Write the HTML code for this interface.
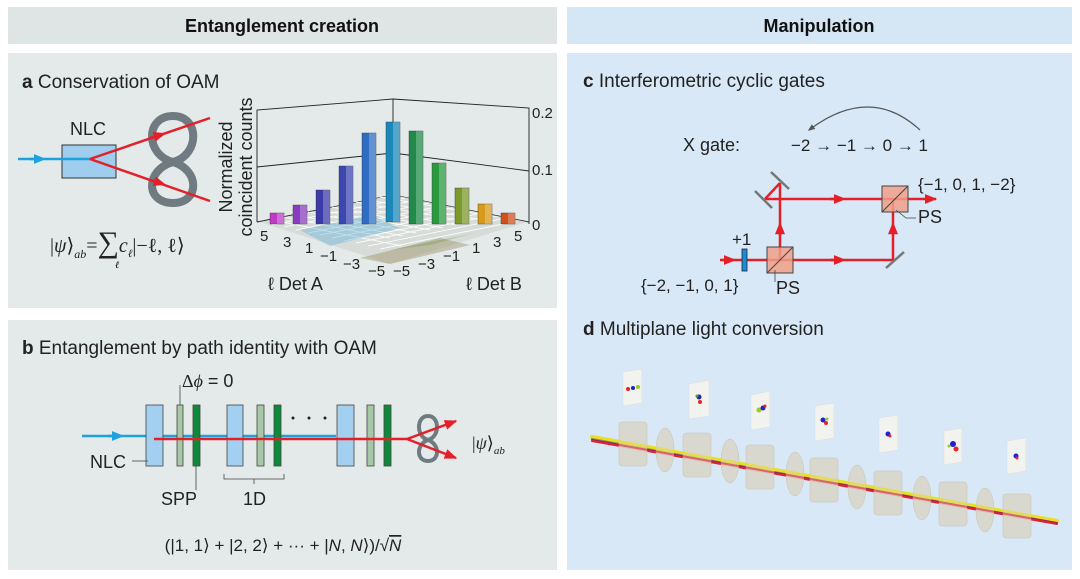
<!DOCTYPE html>
<html><head><meta charset="utf-8"><style>
body{margin:0;background:#fff;}
svg{display:block;font-family:"Liberation Sans","DejaVu Sans",sans-serif;}
</style></head><body>
<svg width="1080" height="579" viewBox="0 0 1080 579" xmlns="http://www.w3.org/2000/svg">
<defs>
<marker id="ar" viewBox="0 0 10 10" refX="5" refY="5" markerWidth="5" markerHeight="5" orient="auto"><path d="M0,1 L10,5 L0,9 z" fill="#e3202a"/></marker>
<marker id="ab" viewBox="0 0 10 10" refX="5" refY="5" markerWidth="5" markerHeight="5" orient="auto"><path d="M0,1 L10,5 L0,9 z" fill="#1aa3de"/></marker>
<marker id="ag" viewBox="0 0 10 10" refX="8" refY="5" markerWidth="6" markerHeight="6" orient="auto"><path d="M0,1 L10,5 L0,9 z" fill="#555"/></marker>
<marker id="ae" viewBox="0 0 10 10" refX="9" refY="5" markerWidth="5" markerHeight="5" orient="auto"><path d="M0,1 L10,5 L0,9 z" fill="#e3202a"/></marker>
</defs>
<rect x="0" y="0" width="1080" height="579" fill="#fff"/>
<rect x="8" y="7" width="549" height="37" fill="#dfe4e4"/>
<rect x="567" y="7" width="505" height="37" fill="#d5e6f5"/>
<text x="282" y="32" font-size="18" font-weight="bold" text-anchor="middle" fill="#111">Entanglement creation</text>
<text x="819" y="32" font-size="18" font-weight="bold" text-anchor="middle" fill="#111">Manipulation</text>
<rect x="8" y="53" width="549" height="255" fill="#e4e9e9"/>
<rect x="8" y="320" width="549" height="250" fill="#e4e9e9"/>
<rect x="567" y="53" width="505" height="517" fill="#d8e8f6"/>

<!-- panel a -->
<text x="22" y="88" font-size="19" fill="#222"><tspan font-weight="bold">a</tspan> Conservation of OAM</text>
<text x="88" y="135" font-size="18" text-anchor="middle" fill="#222">NLC</text>
<rect x="62" y="145" width="54" height="33" fill="#9fcdee" stroke="#333" stroke-width="1"/>
<line x1="18" y1="159" x2="90" y2="159" stroke="#1aa3de" stroke-width="2.5"/>
<path d="M30 159 L40 159" stroke="#1aa3de" stroke-width="2.5" marker-end="url(#ab)"/>
<path d="M173 116 C145 116 145 155 173 162 C200 170 200 203 173 203 C145 203 145 170 173 162 C200 155 200 116 173 116 Z" fill="none" stroke="#6f7b80" stroke-width="8"/>
<line x1="90" y1="159" x2="210" y2="118" stroke="#e3202a" stroke-width="2.5"/>
<line x1="90" y1="159" x2="210" y2="201" stroke="#e3202a" stroke-width="2.5"/>
<path d="M150 138 L160 135" stroke="#e3202a" stroke-width="2.5" marker-end="url(#ar)"/>
<path d="M150 180 L160 183" stroke="#e3202a" stroke-width="2.5" marker-end="url(#ar)"/>
<text x="50" y="252" font-size="20" font-family="Liberation Serif,serif" fill="#222">|<tspan font-style="italic">ψ</tspan>⟩<tspan font-size="12" font-style="italic" dy="6">ab</tspan><tspan dy="-6">=</tspan><tspan font-size="30">∑</tspan><tspan font-style="italic">c</tspan><tspan font-size="11" dy="5" font-style="italic">ℓ</tspan><tspan dy="-5">|−ℓ, ℓ⟩</tspan></text>
<text x="115" y="268" font-size="10" font-style="italic" font-family="Liberation Serif,serif">ℓ</text>

<!-- 3d plot -->
<g stroke="#222" stroke-width="0.9" fill="none">
<polyline points="257,222 257,110 393,99 529,108 529,224"/>
<line x1="393" y1="99" x2="393" y2="195"/>
<polyline points="257,167 393,153 529,171"/>
<polyline points="257,222 393,195 529,222"/>
</g>
<polygon points="260,222 393,195 527,222 390,264" fill="#d8dcd8"/>
<g stroke="#fff" stroke-width="0.8">
<line x1="272" y1="225" x2="405" y2="198"/><line x1="284" y1="227" x2="417" y2="200"/><line x1="296" y1="230" x2="429" y2="203"/><line x1="308" y1="233" x2="441" y2="206"/><line x1="320" y1="235" x2="453" y2="208"/><line x1="332" y1="238" x2="465" y2="211"/><line x1="344" y1="241" x2="477" y2="214"/><line x1="356" y1="243" x2="489" y2="216"/><line x1="368" y1="246" x2="501" y2="219"/><line x1="380" y1="249" x2="513" y2="222"/>
<line x1="272" y1="220" x2="402" y2="246"/><line x1="284" y1="217" x2="390" y2="238"/><line x1="296" y1="215" x2="403" y2="236"/><line x1="308" y1="212" x2="416" y2="233"/><line x1="320" y1="210" x2="430" y2="230"/><line x1="332" y1="207" x2="443" y2="228"/><line x1="344" y1="205" x2="456" y2="225"/><line x1="356" y1="202" x2="470" y2="222"/><line x1="368" y1="200" x2="483" y2="220"/><line x1="380" y1="197" x2="497" y2="217"/>
</g>
<polygon points="300,230 370,215 400,228 330,246" fill="#4aa8d8" opacity="0.35"/>
<polygon points="390,250 470,234 500,226 430,245" fill="#6ab04a" opacity="0.35"/>
<polygon points="360,258 390,264 470,245 440,238" fill="#7a6a30" opacity="0.3"/>
<g stroke="#333" stroke-width="0.4">
<rect x="270" y="213" width="14" height="11" fill="#c03ac8"/>
<rect x="293" y="205" width="14" height="19" fill="#8a3cc0"/>
<rect x="316" y="190" width="14" height="34" fill="#3b3aa8"/>
<rect x="339" y="166" width="14" height="58" fill="#3c48b0"/>
<rect x="362" y="133" width="14" height="91" fill="#2f6cc4"/>
<rect x="386" y="122" width="14" height="100" fill="#1a88b8"/>
<rect x="409" y="131" width="14" height="93" fill="#1f8a4a"/>
<rect x="432" y="163" width="14" height="61" fill="#2b9a3e"/>
<rect x="455" y="188" width="14" height="36" fill="#7a9a2a"/>
<rect x="478" y="204" width="14" height="20" fill="#d89a1a"/>
<rect x="501" y="213" width="14" height="11" fill="#d0501e"/>
</g>
<g fill="#fff" opacity="0.25">
<rect x="277" y="213" width="7" height="11"/><rect x="300" y="205" width="7" height="19"/><rect x="323" y="190" width="7" height="34"/><rect x="346" y="166" width="7" height="58"/><rect x="369" y="133" width="7" height="91"/><rect x="393" y="122" width="7" height="100"/><rect x="416" y="131" width="7" height="93"/><rect x="439" y="163" width="7" height="61"/><rect x="462" y="188" width="7" height="36"/><rect x="485" y="204" width="7" height="20"/><rect x="508" y="213" width="7" height="11"/>
</g>
<g font-size="15" fill="#222">
<text x="532" y="118">0.2</text><text x="532" y="175">0.1</text><text x="532" y="230">0</text>
<text x="260" y="241">5</text><text x="283" y="247">3</text><text x="305" y="253">1</text><text x="320" y="261">−1</text><text x="343" y="269">−3</text><text x="368" y="276">−5</text>
<text x="393" y="276">−5</text><text x="418" y="269">−3</text><text x="443" y="261">−1</text><text x="472" y="253">1</text><text x="493" y="247">3</text><text x="514" y="241">5</text>
<text x="268" y="290" font-size="18">ℓ Det A</text><text x="466" y="290" font-size="18">ℓ Det B</text>
</g>
<text transform="translate(232,167) rotate(-90)" font-size="18" text-anchor="middle" fill="#222">Normalized</text>
<text transform="translate(252,167) rotate(-90)" font-size="18" text-anchor="middle" fill="#222">coincident counts</text>

<!-- panel b -->
<text x="22" y="354" font-size="19" fill="#222"><tspan font-weight="bold">b</tspan> Entanglement by path identity with OAM</text>
<line x1="82" y1="436" x2="336" y2="436" stroke="#1aa3de" stroke-width="2.5"/>
<path d="M108 436 L118 436" stroke="#1aa3de" stroke-width="2.5" marker-end="url(#ab)"/>
<g stroke="#444" stroke-width="0.8">
<rect x="146" y="405" width="17" height="61" fill="#a3d0f0"/>
<rect x="177" y="405" width="6" height="61" fill="#a6c8a6"/>
<rect x="193" y="405" width="7" height="61" fill="#0c8a3a"/>
<rect x="227" y="405" width="16" height="61" fill="#a3d0f0"/>
<rect x="257" y="405" width="7" height="61" fill="#a6c8a6"/>
<rect x="274" y="405" width="7" height="61" fill="#0c8a3a"/>
<rect x="337" y="405" width="17" height="61" fill="#a3d0f0"/>
<rect x="367" y="405" width="7" height="61" fill="#a6c8a6"/>
<rect x="384" y="405" width="7" height="61" fill="#0c8a3a"/>
</g>
<line x1="154" y1="439" x2="407" y2="439" stroke="#e3202a" stroke-width="2.5"/>
<path d="M428 416 C416 416 416 437 428 440 C440 444 440 461 428 461 C416 461 416 444 428 440 C440 437 440 416 428 416 Z" fill="none" stroke="#6f7b80" stroke-width="4"/>
<line x1="407" y1="439" x2="456" y2="421" stroke="#e3202a" stroke-width="2.5" marker-end="url(#ae)"/>
<line x1="407" y1="439" x2="456" y2="458" stroke="#e3202a" stroke-width="2.5" marker-end="url(#ae)"/>
<circle cx="293" cy="418" r="1.5" fill="#222"/><circle cx="309" cy="418" r="1.5" fill="#222"/><circle cx="325" cy="418" r="1.5" fill="#222"/>
<g stroke="#444" stroke-width="0.8" fill="none">
<line x1="180" y1="385" x2="180" y2="405"/>
<line x1="132" y1="461" x2="148" y2="461"/>
<line x1="196" y1="466" x2="196" y2="490"/>
<polyline points="224,474 224,479 284,479 284,474"/><line x1="254" y1="479" x2="254" y2="484"/>
</g>
<text x="182" y="387" font-size="18" fill="#222"><tspan font-family="Liberation Serif,serif">Δ<tspan font-style="italic">ϕ</tspan></tspan> = 0</text>
<text x="90" y="468" font-size="18" fill="#222">NLC</text>
<text x="161" y="505" font-size="18" fill="#222">SPP</text>
<text x="243" y="505" font-size="18" fill="#222">1D</text>
<text x="472" y="449" font-size="18" font-family="Liberation Serif,serif" fill="#222">|<tspan font-style="italic">ψ</tspan>⟩<tspan font-size="11" font-style="italic" dy="5">ab</tspan></text>
<text x="283" y="551" font-size="17" text-anchor="middle" fill="#222">(|1, 1⟩ + |2, 2⟩ + ··· + |<tspan font-style="italic">N</tspan>, <tspan font-style="italic">N</tspan>⟩)/√<tspan font-style="italic" text-decoration="overline">N</tspan></text>

<!-- panel c -->
<text x="583" y="87" font-size="19" fill="#222"><tspan font-weight="bold">c</tspan> Interferometric cyclic gates</text>
<text x="683" y="151" font-size="18" fill="#222">X gate:</text>
<text x="791" y="151" font-size="17" fill="#222">−2 → −1 → 0 → 1</text>
<path d="M920 130 Q870 84 809 130" fill="none" stroke="#555" stroke-width="1.2" marker-end="url(#ag)"/>
<g stroke="#e3202a" stroke-width="2.5" fill="none">
<line x1="720" y1="260" x2="893" y2="260"/>
<line x1="780" y1="260" x2="780" y2="183"/>
<line x1="780" y1="183" x2="765" y2="199"/>
<line x1="765" y1="199" x2="932" y2="199"/>
<line x1="893" y1="260" x2="893" y2="199"/>
</g>
<path d="M722 260 L730 260" stroke="#e3202a" stroke-width="2.5" marker-end="url(#ar)"/>
<path d="M830 260 L840 260" stroke="#e3202a" stroke-width="2.5" marker-end="url(#ar)"/>
<path d="M830 199 L840 199" stroke="#e3202a" stroke-width="2.5" marker-end="url(#ar)"/>
<path d="M780 235 L780 228" stroke="#e3202a" stroke-width="2.5" marker-end="url(#ar)"/>
<path d="M893 235 L893 228" stroke="#e3202a" stroke-width="2.5" marker-end="url(#ar)"/>
<path d="M925 199 L936 199" stroke="#e3202a" stroke-width="2.5" marker-end="url(#ae)"/>
<rect x="742" y="249" width="5" height="22" fill="#1a8fd0" stroke="#224" stroke-width="0.8"/>
<rect x="767" y="247" width="26" height="26" fill="#f0a088" fill-opacity="0.85" stroke="#444" stroke-width="1"/>
<line x1="767" y1="273" x2="793" y2="247" stroke="#444" stroke-width="1"/>
<rect x="882" y="186" width="26" height="26" fill="#f0a088" fill-opacity="0.85" stroke="#444" stroke-width="1"/>
<line x1="882" y1="212" x2="908" y2="186" stroke="#444" stroke-width="1"/>
<g stroke="#777" stroke-width="2.5">
<line x1="771" y1="172" x2="789" y2="189"/>
<line x1="755" y1="191" x2="772" y2="208"/>
<line x1="886" y1="268" x2="904" y2="252"/>
</g>
<g stroke="#444" stroke-width="0.8" fill="none"><line x1="775" y1="270" x2="775" y2="282"/><polyline points="896,210 906,218 916,218"/></g>
<text x="732" y="245" font-size="17" fill="#222">+1</text>
<text x="641" y="291" font-size="17" fill="#222">{−2, −1, 0, 1}</text>
<text x="776" y="294" font-size="18" fill="#222">PS</text>
<text x="918" y="190" font-size="17" fill="#222">{−1, 0, 1, −2}</text>
<text x="918" y="223" font-size="18" fill="#222">PS</text>

<!-- panel d -->
<text x="583" y="335" font-size="19" fill="#222"><tspan font-weight="bold">d</tspan> Multiplane light conversion</text>
<g fill="#f2f2ee" stroke="#ddd" stroke-width="0.5">
<polygon points="623,372 642,369 642,403 623,406"/>
<polygon points="689,384 709,380 709,416 689,419"/>
<polygon points="751,395 770,391 770,427 751,430"/>
<polygon points="815,406 834,403 834,438 815,441"/>
<polygon points="879,418 898,415 898,450 879,453"/>
<polygon points="944,431 962,428 962,462 944,465"/>
<polygon points="1007,441 1026,438 1026,471 1007,474"/>
</g>
<g>
<circle cx="628" cy="389" r="2" fill="#e22"/><circle cx="633" cy="388" r="2" fill="#22c"/><circle cx="638" cy="387" r="2" fill="#9c2"/>
<circle cx="699" cy="397" r="2.5" fill="#22a"/><circle cx="700" cy="402" r="2" fill="#e22"/><circle cx="697" cy="396" r="1.5" fill="#3a3"/>
<circle cx="759" cy="410" r="2.5" fill="#9c2"/><circle cx="763" cy="408" r="2.5" fill="#22c"/><circle cx="765" cy="406" r="1.5" fill="#e22"/>
<circle cx="823" cy="420" r="2.5" fill="#22c"/><circle cx="826" cy="423" r="2" fill="#e22"/><circle cx="827" cy="419" r="1.5" fill="#9c2"/>
<circle cx="888" cy="434" r="2.5" fill="#22c"/><circle cx="890" cy="436" r="1.5" fill="#e22"/>
<circle cx="953" cy="444" r="3" fill="#22c"/><circle cx="956" cy="449" r="2.5" fill="#e22"/><circle cx="949" cy="446" r="1.5" fill="#9c2"/>
<circle cx="1016" cy="456" r="2.5" fill="#22c"/><circle cx="1017" cy="458" r="1.5" fill="#e22"/>
</g>
<g stroke-linecap="round">
<line x1="592" y1="437" x2="1057" y2="521" stroke="#e8e020" stroke-width="4"/>
<line x1="592" y1="439" x2="1057" y2="523" stroke="#2030c0" stroke-width="2"/>
<line x1="592" y1="441" x2="1057" y2="524" stroke="#e3202a" stroke-width="2"/>
</g>
<g fill="#d9d5c8" fill-opacity="0.85" stroke="#c8c2b2" stroke-width="0.5">
<rect x="619" y="422" width="28" height="44" rx="3"/>
<ellipse cx="665" cy="450" rx="9" ry="22"/>
<rect x="683" y="433" width="28" height="44" rx="3"/>
<ellipse cx="730" cy="461" rx="9" ry="22"/>
<rect x="746" y="445" width="28" height="44" rx="3"/>
<ellipse cx="795" cy="474" rx="9" ry="22"/>
<rect x="810" y="458" width="28" height="44" rx="3"/>
<ellipse cx="857" cy="487" rx="9" ry="22"/>
<rect x="874" y="471" width="28" height="44" rx="3"/>
<ellipse cx="922" cy="498" rx="9" ry="22"/>
<rect x="939" y="482" width="28" height="44" rx="3"/>
<ellipse cx="985" cy="510" rx="9" ry="22"/>
<rect x="1003" y="494" width="28" height="44" rx="3"/>
</g>
<g stroke-linecap="round" opacity="0.55">
<line x1="592" y1="437" x2="1057" y2="521" stroke="#e8e020" stroke-width="4"/>
<line x1="592" y1="440" x2="1057" y2="523" stroke="#e3202a" stroke-width="2"/>
</g>
</svg>
</body></html>
